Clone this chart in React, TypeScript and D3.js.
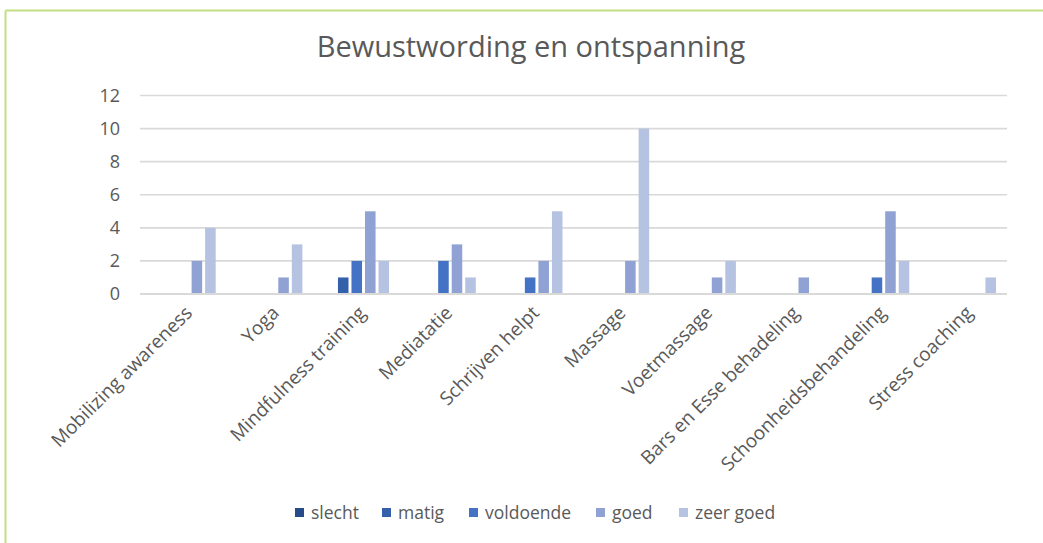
import React from "react";
import * as d3 from "d3";

const categories = [
  "Mobilizing awareness",
  "Yoga",
  "Mindfulness training",
  "Mediatatie",
  "Schrijven helpt",
  "Massage",
  "Voetmassage",
  "Bars en Esse behadeling",
  "Schoonheidsbehandeling",
  "Stress coaching",
];
const seriesNames = ["slecht", "matig", "voldoende", "goed", "zeer goed"];
const slecht = [0, 0, 0, 0, 0, 0, 0, 0, 0, 0];
const matig = [0, 0, 1, 0, 0, 0, 0, 0, 0, 0];
const voldoende = [0, 0, 2, 2, 1, 0, 0, 0, 1, 0];
const goed = [2, 1, 5, 3, 2, 2, 1, 1, 5, 0];
const zeerGoed = [4, 3, 2, 1, 5, 10, 2, 0, 2, 1];
const yTicks = [0, 2, 4, 6, 8, 10, 12];
const colors = ["#264a8a", "#335fab", "#4472c4", "#8fa2d3", "#b6c2e1"];

const seriesValues = [slecht, matig, voldoende, goed, zeerGoed];

export default function App() {
  const W = 1043;
  const H = 543;
  const left = 140;
  const right = 1007;
  const top = 95.5;
  const bottom = 294;
  const font = "'Open Sans', sans-serif";
  const txt = "#595959";

  const x0 = d3.scaleBand<string>().domain(categories).range([left, right]).padding(0);
  const groupW = x0.bandwidth() * 0.78;
  const x1 = d3
    .scaleBand<string>()
    .domain(seriesNames)
    .range([(x0.bandwidth() - groupW) / 2, (x0.bandwidth() + groupW) / 2])
    .paddingInner(0.22)
    .paddingOuter(0.11);
  const y = d3.scaleLinear().domain([0, 12]).range([bottom, top]);

  const legendX = [295, 382, 469, 596, 679];

  return (
    <svg
      width={W}
      height={H}
      style={{ position: "absolute", left: 0, top: 0, background: "#fff" }}
      fontFamily={font}
    >
      <rect x={0} y={0} width={W} height={H} fill="#fff" />
      <line x1={5.5} y1={10.5} x2={W} y2={10.5} stroke="#c4de84" strokeWidth={2} />
      <line x1={5.5} y1={10.5} x2={5.5} y2={H} stroke="#c4de84" strokeWidth={2} />

      <text x={531} y={57} textAnchor="middle" fontSize={29} fill={txt}>
        Bewustwording en ontspanning
      </text>

      {yTicks.map((t) => (
        <g key={t}>
          <line x1={left} x2={right} y1={y(t)} y2={y(t)} stroke="#d9d9d9" strokeWidth={t === 0 ? 2.2 : 1.6} />
          <text x={120} y={y(t)} dy="0.36em" textAnchor="end" fontSize={18} fill={txt}>
            {t}
          </text>
        </g>
      ))}

      {categories.map((c, ci) => (
        <g key={c} transform={`translate(${x0(c)},0)`}>
          {seriesNames.map((s, si) => {
            const v = seriesValues[si][ci];
            if (!v) return null;
            return (
              <rect
                key={s}
                x={x1(s)}
                y={y(v)}
                width={x1.bandwidth()}
                height={y(0) - y(v) - 1}
                fill={colors[si]}
              />
            );
          })}
        </g>
      ))}

      {categories.map((c) => {
        const cx = (x0(c) as number) + x0.bandwidth() / 2;
        return (
          <text
            key={c}
            transform={`translate(${cx},${304}) rotate(-45)`}
            textAnchor="end"
            dy="0.75em"
            fontSize={19}
            fill={txt}
          >
            {c}
          </text>
        );
      })}

      {seriesNames.map((s, i) => (
        <g key={s}>
          <rect x={legendX[i]} y={508} width={9} height={9} fill={colors[i]} />
          <text x={legendX[i] + 16} y={518.5} fontSize={17.5} fill={txt}>
            {s}
          </text>
        </g>
      ))}
    </svg>
  );
}
